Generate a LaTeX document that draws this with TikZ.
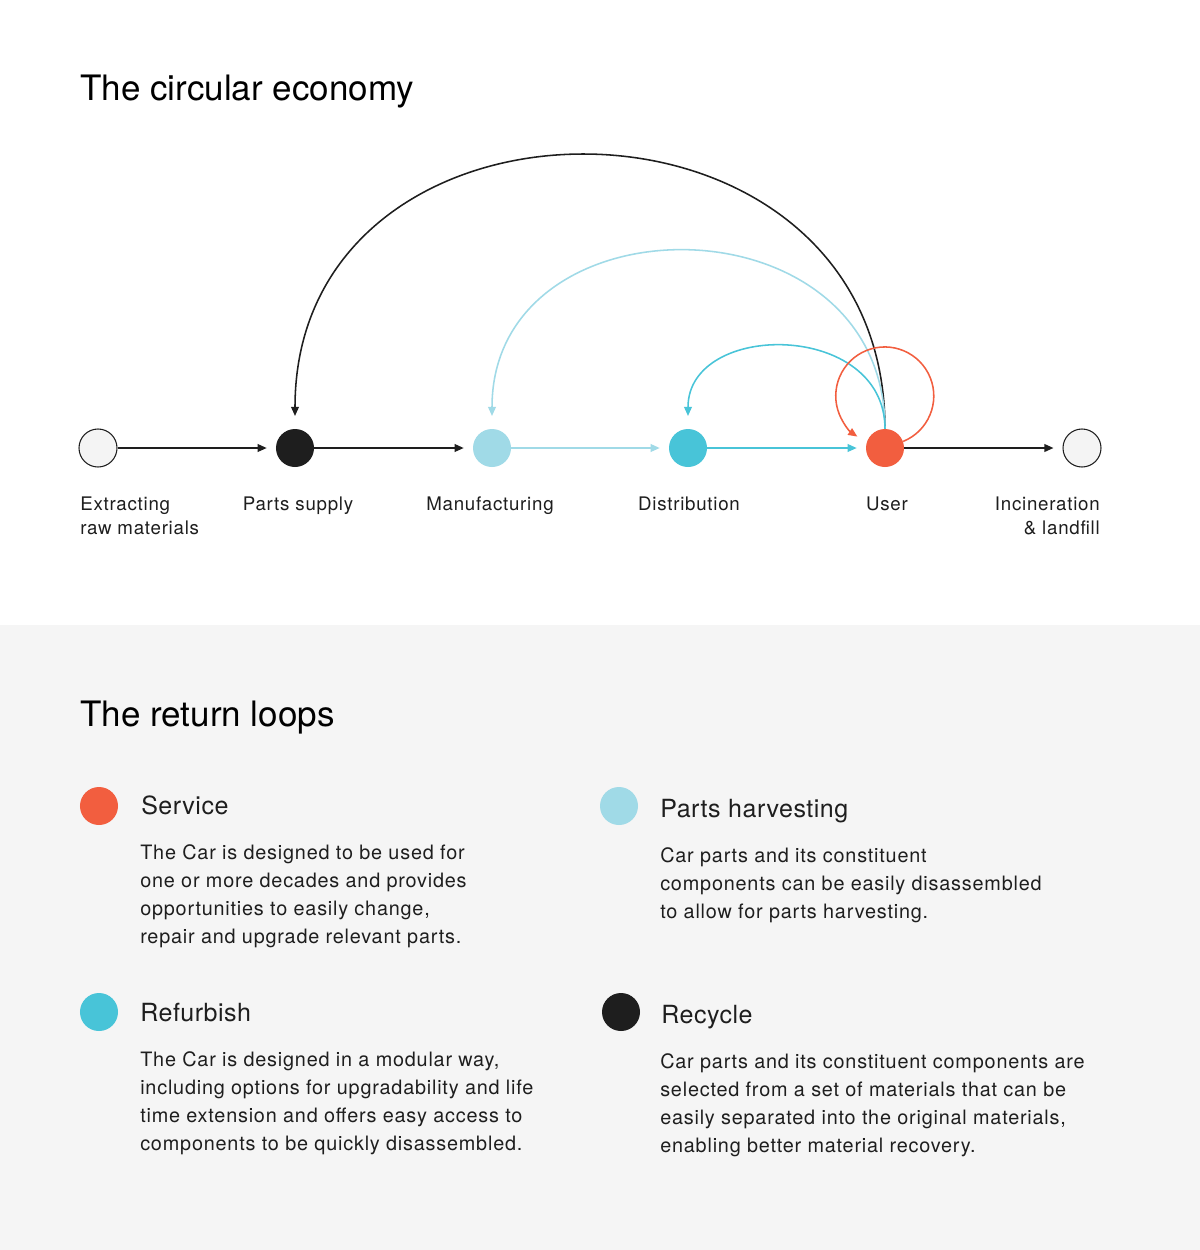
\documentclass[tikz,border=0pt]{standalone}
\usepackage{fontspec}
\setmainfont{TeX Gyre Heros}
\newfontfamily\trackwide{TeX Gyre Heros}[LetterSpace=4]
\newfontfamily\tracknarrow{TeX Gyre Heros}[LetterSpace=2]
\usetikzlibrary{arrows.meta,backgrounds}
\pgfdeclarelayer{bglayer}
\pgfdeclarelayer{edgelayer}
\pgfdeclarelayer{nodelayer}
\pgfsetlayers{bglayer,edgelayer,nodelayer,main}
\definecolor{ink}{HTML}{1E1E1E}
\definecolor{paper}{HTML}{F4F4F4}
\definecolor{panel}{HTML}{F5F5F5}
\definecolor{servorange}{HTML}{F25E3F}
\definecolor{harvblue}{HTML}{A0DAE7}
\definecolor{refcyan}{HTML}{48C4D8}
\tikzstyle{none}=[inner sep=0pt, text=ink]
\tikzstyle{stagedot}=[circle, inner sep=0pt, minimum size=0.95cm]
\tikzstyle{opendot}=[stagedot, draw=ink, fill=paper, line width=0.75pt]
\tikzstyle{headtext}=[none, anchor=base west, font=\fontsize{24.9pt}{30pt}\selectfont, text=black]
\tikzstyle{subhead}=[none, anchor=base west, font=\tracknarrow\fontsize{17.8pt}{21pt}\selectfont]
\tikzstyle{bodytext}=[none, anchor=base west, align=left, font=\trackwide\fontsize{14.1pt}{19.9pt}\selectfont]
\tikzstyle{steptext}=[none, anchor=base, font=\trackwide\fontsize{13.3pt}{17.07pt}\selectfont]
\tikzstyle{arrowed}=[-{Triangle[length=6.5pt,width=5.5pt]}]
\tikzstyle{flow}=[arrowed, line width=1.2pt, shorten >=6.4pt]
\tikzstyle{ret}=[arrowed, line width=1.1pt, shorten <=0.475cm, shorten >=0.8cm]

\begin{document}
\begin{tikzpicture}[x=0.025cm, y=0.025cm]
	\useasboundingbox (0,0) rectangle (1200,-1250);
	\begin{pgfonlayer}{bglayer}
		\fill[white] (0,0) rectangle (1200,-625);
		\fill[panel] (0,-625) rectangle (1200,-1250);
	\end{pgfonlayer}
	\begin{pgfonlayer}{nodelayer}
		\node [style=headtext] (title) at (80, -100) {The circular economy};
		\node [style=opendot] (extract) at (98, -448) {};
		\node [style=stagedot, fill=ink] (parts) at (295, -448) {};
		\node [style=stagedot, fill=harvblue] (manuf) at (492, -448) {};
		\node [style=stagedot, fill=refcyan] (distr) at (688, -448) {};
		\node [style=stagedot, fill=servorange] (user) at (885, -448) {};
		\node [style=opendot] (inciner) at (1082, -448) {};
		\node [style=steptext, anchor=base west, align=left] (extractlbl) at (80, -534) {Extracting\\raw materials};
		\node [style=steptext] (partslbl) at (298, -510) {Parts supply};
		\node [style=steptext] (manuflbl) at (490, -510) {Manufacturing};
		\node [style=steptext] (distrlbl) at (689, -510) {Distribution};
		\node [style=steptext] (userlbl) at (887, -510) {User};
		\node [style=steptext, anchor=base east, align=right] (incinerlbl) at (1100, -534) {Incineration\\\& landfill};
		\node [style=headtext] (loopstitle) at (80, -726) {The return loops};
		\node [style=stagedot, fill=servorange] (servdot) at (99, -806) {};
		\node [style=subhead] (servhead) at (141, -814) {Service};
		\node [style=bodytext] (servtext) at (140, -943) {The Car is designed to be used for\\one or more decades and provides\\opportunities to easily change,\\repair and upgrade relevant parts.};
		\node [style=stagedot, fill=harvblue] (harvdot) at (619, -806) {};
		\node [style=subhead] (harvhead) at (660, -817) {Parts harvesting};
		\node [style=bodytext] (harvtext) at (660, -918) {Car parts and its constituent\\components can be easily disassembled\\to allow for parts harvesting.};
		\node [style=stagedot, fill=refcyan] (refdot) at (99, -1012) {};
		\node [style=subhead] (refhead) at (140, -1021) {Refurbish};
		\node [style=bodytext] (reftext) at (140, -1150) {The Car is designed in a modular way,\\including options for upgradability and life\\time extension and offers easy access to\\components to be quickly disassembled.};
		\node [style=stagedot, fill=ink] (recdot) at (621, -1012) {};
		\node [style=subhead] (rechead) at (661, -1023) {Recycle};
		\node [style=bodytext] (rectext) at (660, -1152) {Car parts and its constituent components are\\selected from a set of materials that can be\\easily separated into the original materials,\\enabling better material recovery.};
	\end{pgfonlayer}
	\begin{pgfonlayer}{edgelayer}
		\draw [style=flow, ink] (extract) to (parts);
		\draw [style=flow, ink] (parts) to (manuf);
		\draw [style=flow, harvblue] (manuf) to (distr);
		\draw [style=flow, refcyan] (distr) to (user);
		\draw [style=flow, ink] (user) to (inciner);
		\draw [style=ret, ink] [in=90, out=90, looseness=1.66] (user.center) to (parts.center);
		\draw [style=ret, harvblue] [in=90, out=90, looseness=1.66] (user.center) to (manuf.center);
		\draw [style=ret, refcyan] [in=90, out=90, looseness=1.66] (user.center) to (distr.center);
		\draw [style=arrowed, line width=1.1pt, servorange] (user.20) arc [start angle=-68, end angle=236, radius=1.225cm];
	\end{pgfonlayer}
\end{tikzpicture}
\end{document}
